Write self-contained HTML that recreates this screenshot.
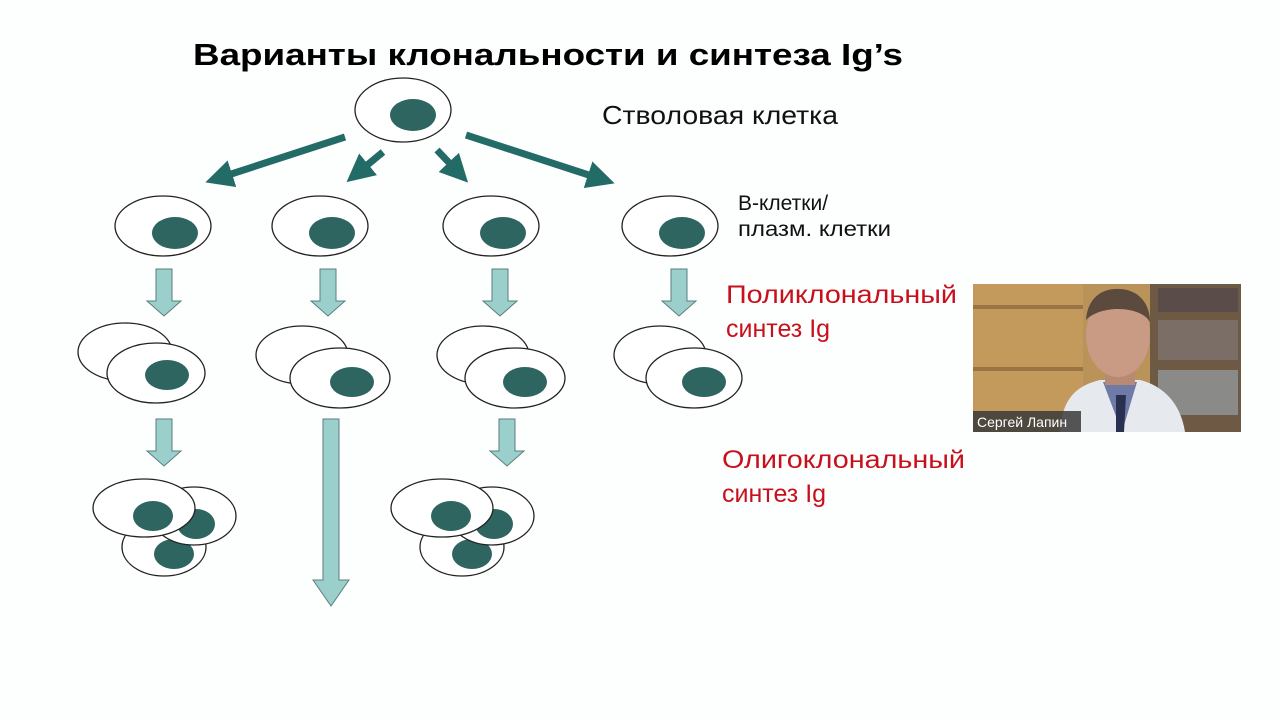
<!DOCTYPE html>
<html><head><meta charset="utf-8"><style>
html,body{margin:0;padding:0;background:#fff;}
svg{display:block;}
text{font-family:"Liberation Sans",sans-serif;}
</style></head><body>
<svg width="1280" height="720" viewBox="0 0 1280 720" xmlns="http://www.w3.org/2000/svg">
<rect width="1280" height="720" fill="#fdfefe"/>
<defs>
<marker id="ah" markerWidth="4" markerHeight="4" refX="1.5" refY="2" orient="auto" markerUnits="strokeWidth">
<path d="M0,0 L4,2 L0,4 z" fill="#236b66"/>
</marker>
<g id="dn"><path d="M-8,0 h16 v32 h9 l-17,15 l-17,-15 h9 z" fill="#9bcfcb" stroke="#5a7f7c" stroke-width="1"/></g>
</defs>
<text x="193" y="65" font-size="31" font-weight="bold" fill="#000" textLength="710" lengthAdjust="spacingAndGlyphs">Варианты клональности и синтеза Ig’s</text>
<text x="602" y="124" font-size="26" fill="#111" textLength="236" lengthAdjust="spacingAndGlyphs">Стволовая клетка</text>
<text x="738" y="210" font-size="21" fill="#111">В-клетки/</text>
<text x="738" y="236" font-size="21" fill="#111" textLength="153" lengthAdjust="spacingAndGlyphs">плазм. клетки</text>
<text x="726" y="303" font-size="25" fill="#c8101c" textLength="231" lengthAdjust="spacingAndGlyphs">Поликлональный</text>
<text x="726" y="337" font-size="25" fill="#c8101c">синтез Ig</text>
<text x="722" y="468" font-size="25" fill="#c8101c" textLength="243" lengthAdjust="spacingAndGlyphs">Олигоклональный</text>
<text x="722" y="502" font-size="25" fill="#c8101c">синтез Ig</text>

<g stroke="#222" stroke-width="1.3" fill="#fff">
<ellipse cx="403" cy="110" rx="48" ry="32"/>
<ellipse cx="163" cy="226" rx="48" ry="30"/>
<ellipse cx="320" cy="226" rx="48" ry="30"/>
<ellipse cx="491" cy="226" rx="48" ry="30"/>
<ellipse cx="670" cy="226" rx="48" ry="30"/>
</g>
<g fill="#2f6561">
<ellipse cx="413" cy="115" rx="23" ry="16"/>
<ellipse cx="175" cy="233" rx="23" ry="16"/>
<ellipse cx="332" cy="233" rx="23" ry="16"/>
<ellipse cx="503" cy="233" rx="23" ry="16"/>
<ellipse cx="682" cy="233" rx="23" ry="16"/>
</g>

<g stroke="#236b66" stroke-width="7" fill="none" marker-end="url(#ah)">
<line x1="345" y1="137" x2="222" y2="177"/>
<line x1="383" y1="152" x2="360" y2="171"/>
<line x1="437" y1="150" x2="456" y2="170"/>
<line x1="466" y1="135" x2="598" y2="178"/>
</g>

<use href="#dn" x="164" y="269"/>
<use href="#dn" x="328" y="269"/>
<use href="#dn" x="500" y="269"/>
<use href="#dn" x="679" y="269"/>

<g stroke="#222" stroke-width="1.3">
<ellipse cx="125" cy="352" rx="47" ry="29" fill="#fff"/>
<ellipse cx="156" cy="373" rx="49" ry="30" fill="#fff"/>
<ellipse cx="302" cy="355" rx="46" ry="29" fill="#fff"/>
<ellipse cx="340" cy="378" rx="50" ry="30" fill="#fff"/>
<ellipse cx="483" cy="355" rx="46" ry="29" fill="#fff"/>
<ellipse cx="515" cy="378" rx="50" ry="30" fill="#fff"/>
<ellipse cx="660" cy="355" rx="46" ry="29" fill="#fff"/>
<ellipse cx="694" cy="378" rx="48" ry="30" fill="#fff"/>
</g>
<g fill="#2f6561">
<ellipse cx="167" cy="375" rx="22" ry="15"/>
<ellipse cx="352" cy="382" rx="22" ry="15"/>
<ellipse cx="525" cy="382" rx="22" ry="15"/>
<ellipse cx="704" cy="382" rx="22" ry="15"/>
</g>

<use href="#dn" x="164" y="419"/>
<use href="#dn" x="507" y="419"/>
<path d="M323,419 h16 v161 h10 l-18,26 l-18,-26 h10 z" fill="#9bcfcb" stroke="#5a7f7c" stroke-width="1"/>

<g id="cl">
<ellipse cx="164" cy="547" rx="42" ry="29" fill="#fff" stroke="#222" stroke-width="1.3"/>
<ellipse cx="174" cy="554" rx="20" ry="15" fill="#2f6561"/>
<ellipse cx="194" cy="516" rx="42" ry="29" fill="#fff" stroke="#222" stroke-width="1.3"/>
<ellipse cx="196" cy="524" rx="19" ry="15" fill="#2f6561"/>
<ellipse cx="144" cy="508" rx="51" ry="29" fill="#fff" stroke="#222" stroke-width="1.3"/>
<ellipse cx="153" cy="516" rx="20" ry="15" fill="#2f6561"/>
</g>
<use href="#cl" x="298" y="0"/>

<g>
<rect x="973" y="284" width="268" height="148" fill="#b9935a"/>
<rect x="973" y="284" width="110" height="148" fill="#c49a5c"/>
<rect x="973" y="305" width="110" height="4" fill="#9a7444"/>
<rect x="973" y="367" width="110" height="4" fill="#9a7444"/>
<rect x="1150" y="284" width="91" height="148" fill="#6e5a44"/>
<rect x="1158" y="288" width="80" height="24" fill="#5a4c48"/>
<rect x="1158" y="320" width="80" height="40" fill="#7a6e66"/>
<rect x="1158" y="370" width="80" height="45" fill="#8a8a88"/>
<path d="M1060,432 C1062,395 1080,385 1100,380 L1140,380 C1160,385 1180,400 1185,432 Z" fill="#e6eaee"/>
<path d="M1103,382 L1137,382 L1122,432 Z" fill="#6f7aa6"/>
<path d="M1116,395 L1126,395 L1124,432 L1116,432 Z" fill="#2a3050"/>
<rect x="1105" y="350" width="30" height="35" fill="#b88a74"/>
<ellipse cx="1118" cy="335" rx="32" ry="42" fill="#c99a84"/>
<path d="M1086,320 C1088,295 1105,288 1120,289 C1140,290 1150,305 1150,322 C1140,305 1100,305 1086,320 Z" fill="#5c4a3e"/>
<rect x="973" y="411" width="108" height="21" fill="#3a3a3a" opacity="0.85"/>
<text x="977" y="427" font-size="14" fill="#fff">Сергей Лапин</text>
</g>
</svg>
</body></html>
